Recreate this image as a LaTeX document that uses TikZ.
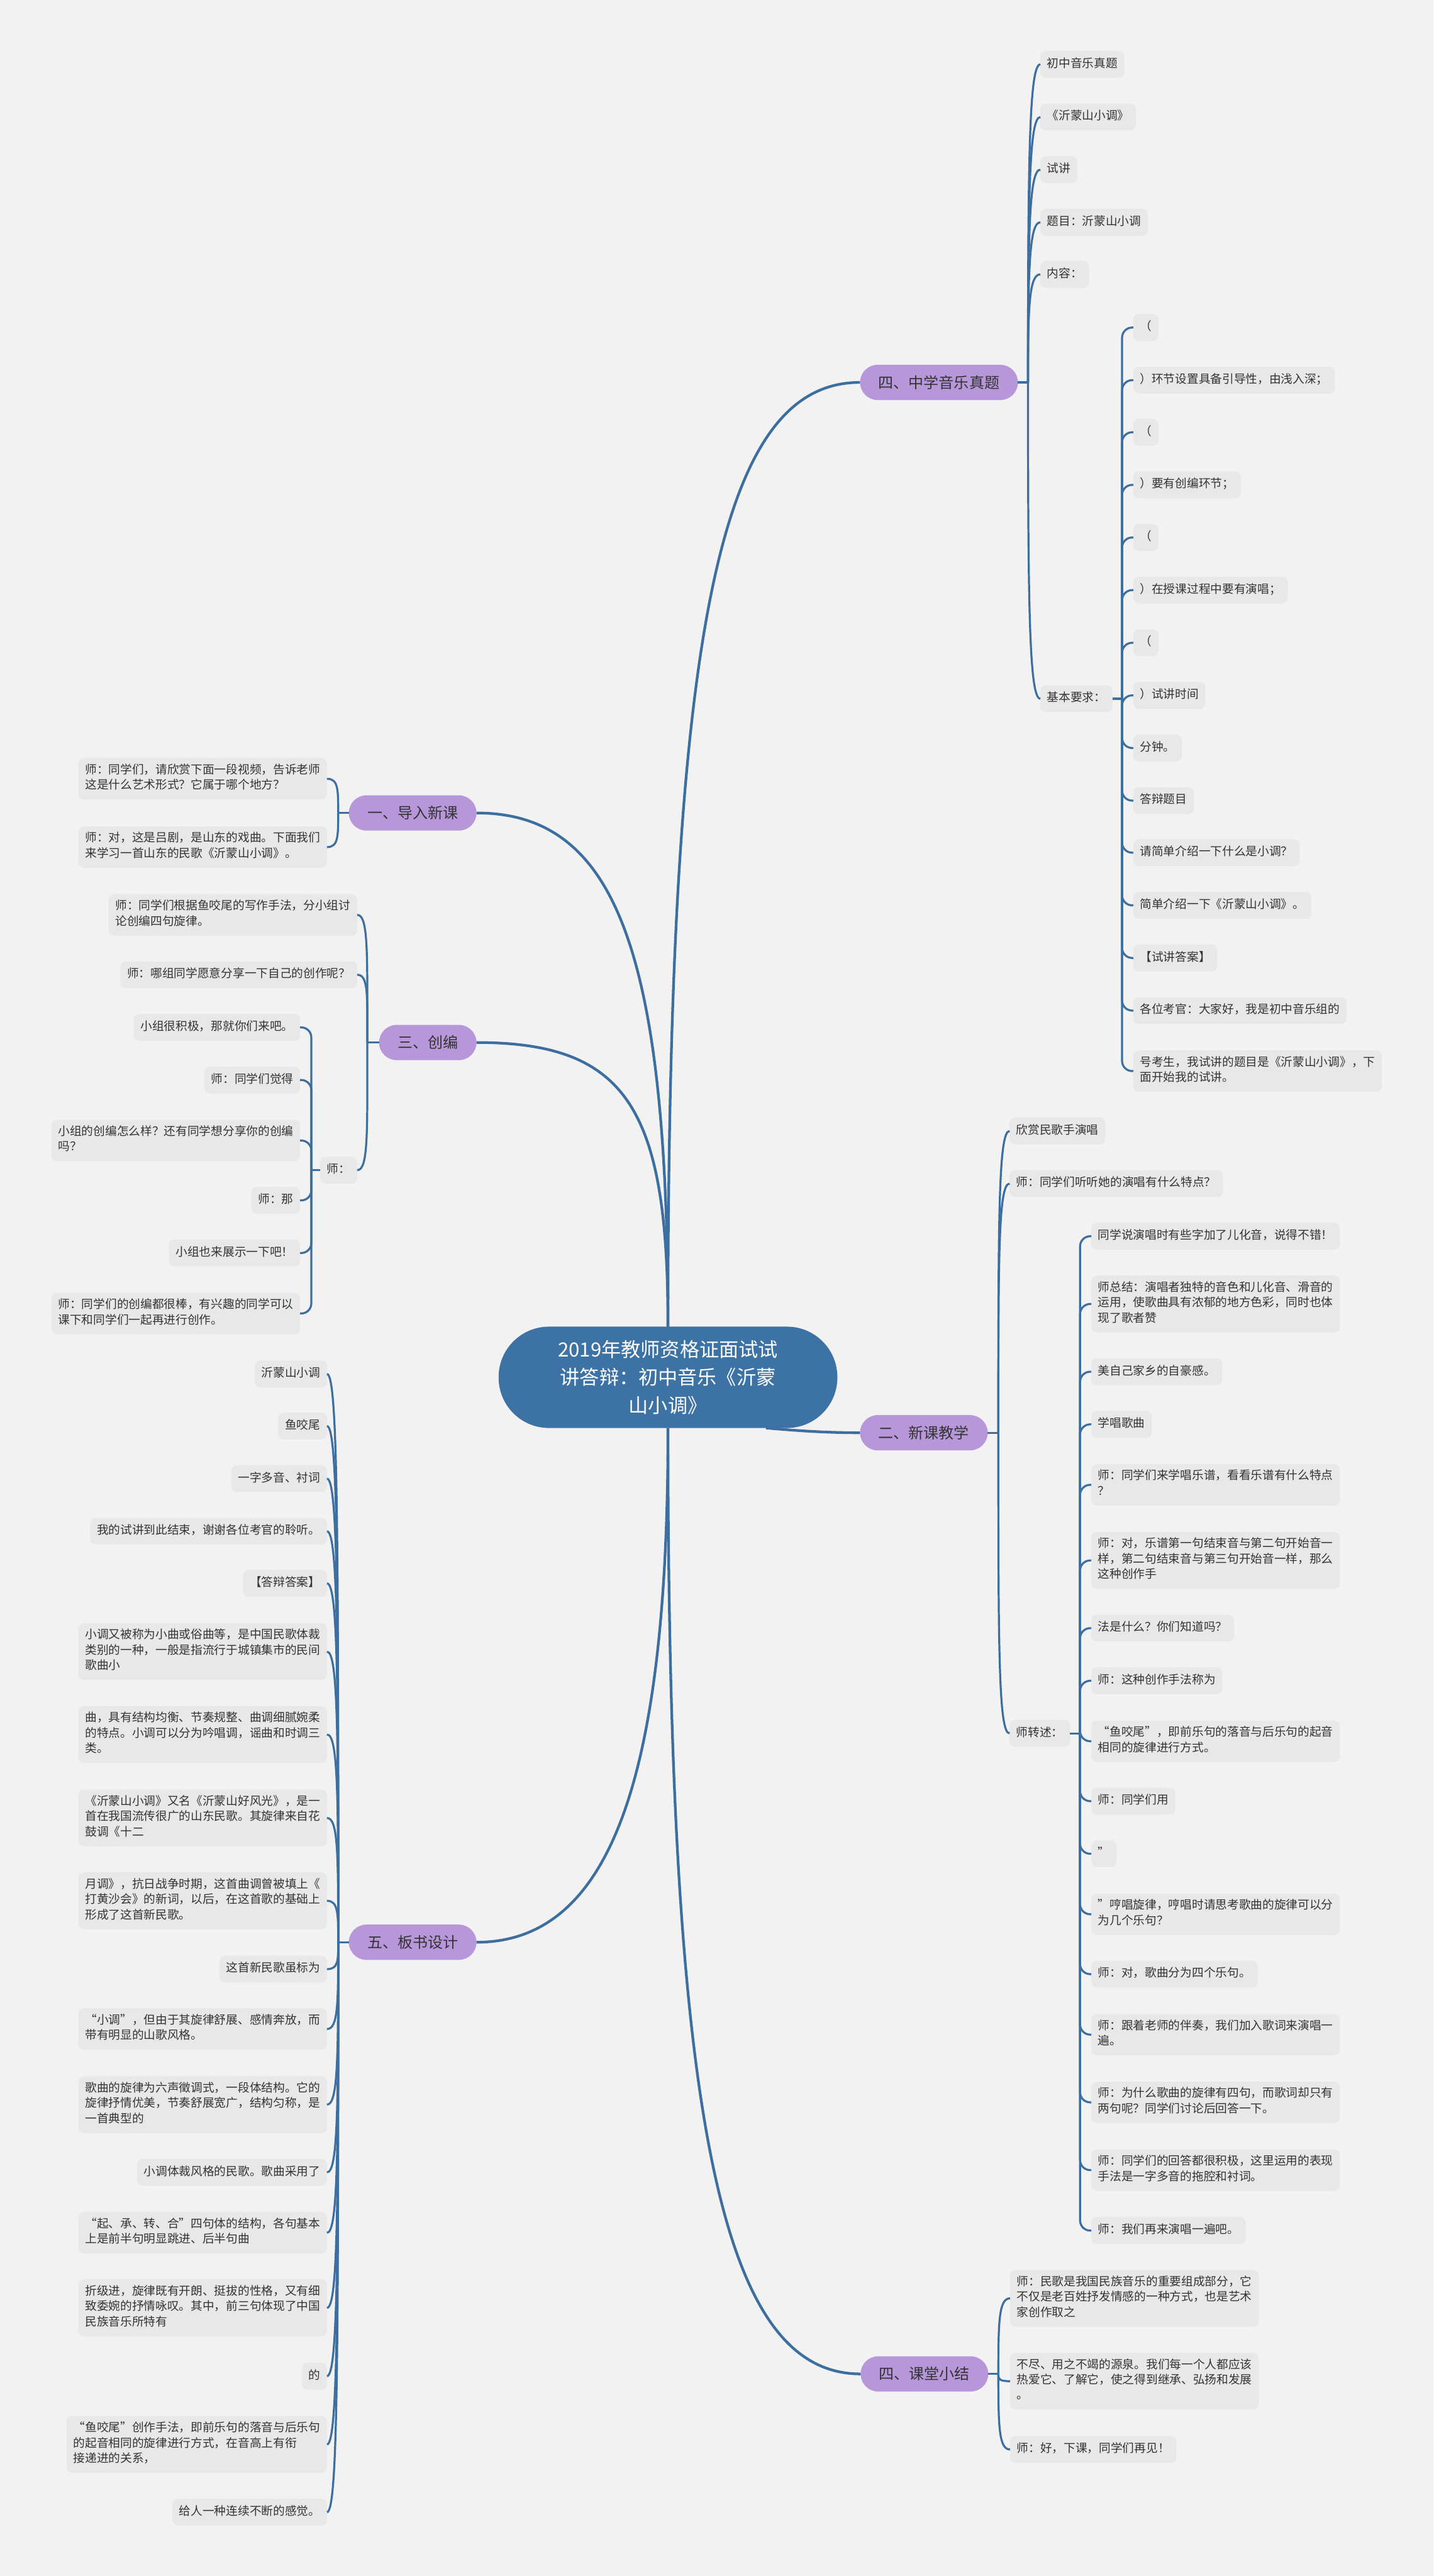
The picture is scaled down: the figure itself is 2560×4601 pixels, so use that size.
\documentclass[tikz,border=0pt]{standalone}
\usepackage{fontspec}
\newfontfamily\cjk{Noto Sans CJK SC}
\usetikzlibrary{calc}
\definecolor{bgc}{HTML}{F2F2F2}
\definecolor{leafc}{HTML}{E8E8E8}
\definecolor{lnc}{HTML}{3C6E9F}
\definecolor{ctrc}{HTML}{3D72A4}
\definecolor{purc}{HTML}{B797DA}
\definecolor{txtc}{HTML}{333333}
\newcommand\lnbrk{\\\strut}
\newcommand\leaffont{\cjk\fontsize{10.5pt}{13.75pt}\selectfont}
\newcommand\conR[2]{\draw[lk] (#1) .. controls ($(#1)!0.7!(#1|-#2.west)$) and ($(#2.west)+(-20,0)$) .. (#2.west);}
\newcommand\conL[2]{\draw[lk] (#1) .. controls ($(#1)!0.7!(#1|-#2.east)$) and ($(#2.east)+(20,0)$) .. (#2.east);}
\newcommand\elbR[2]{\draw[lk,rounded corners=9pt] (#1) |- (#2.west);}
\newcommand\elbL[2]{\draw[lk,rounded corners=9pt] (#1) |- (#2.east);}
\tikzset{
  leaf/.style={fill=leafc, text=txtc, rounded corners=5pt, font=\leaffont, align=left,
    inner xsep=6pt, inner ysep=5.1pt, outer sep=0pt, execute at begin node=\strut},
  mainb/.style={fill=purc, text=txtc, rounded corners=15.75pt, minimum height=31.5pt,
    inner xsep=16.5pt, inner ysep=0pt, outer sep=0pt, font=\cjk\fontsize{13.5pt}{16pt}\selectfont},
  ctrnode/.style={fill=ctrc, text=white, rounded corners=45pt, minimum width=302.5pt,
    minimum height=90.5pt, inner sep=0pt, outer sep=0pt, align=center,
    font=\cjk\fontsize{17.5pt}{25pt}\selectfont},
  lk/.style={draw=lnc, line width=1.8pt},
  mlk/.style={draw=lnc, line width=2.4pt},
}
\begin{document}
\begin{tikzpicture}[x=0.5pt,y=-0.5pt]
\fill[bgc] (0,0) rectangle (2560,4601);
\useasboundingbox (0,0) rectangle (2560,4601);

% center
\node[ctrnode] (c) at (1193,2460) {2019年教师资格证面试试\\讲答辩：初中音乐《沂蒙\\山小调》};
\coordinate (cse) at ($(c.south)+(175,0)$);

% main branches
\node[mainb,anchor=west] (b4t) at (1536,683) {四、中学音乐真题};
\node[mainb,anchor=west] (b2) at (1536,2559) {二、新课教学};
\node[mainb,anchor=west] (b4b) at (1537,4240) {四、课堂小结};
\node[mainb,anchor=east] (b1) at (851,1452) {一、导入新课};
\node[mainb,anchor=east] (b3) at (851,1862) {三、创编};
\node[mainb,anchor=east] (b5) at (851,3469) {五、板书设计};

% branch: 四、中学音乐真题
\coordinate (j4t) at (1836,683);
\node[leaf,anchor=west] (a1) at (1858,115) {初中音乐真题};
\node[leaf,anchor=west] (a2) at (1858,209) {《沂蒙山小调》};
\node[leaf,anchor=west] (a3) at (1858,303) {试讲};
\node[leaf,anchor=west] (a4) at (1858,397) {题目：沂蒙山小调};
\node[leaf,anchor=west] (a5) at (1858,490) {内容：};
\node[leaf,anchor=west] (a6) at (1858,1248) {基本要求：};
\coordinate (ja6) at (2004,1248);
\node[leaf,anchor=west] (r1) at (2024,585) {（};
\node[leaf,anchor=west] (r2) at (2024,679) {）环节设置具备引导性，由浅入深；};
\node[leaf,anchor=west] (r3) at (2024,772) {（};
\node[leaf,anchor=west] (r4) at (2024,866) {）要有创编环节；};
\node[leaf,anchor=west] (r5) at (2024,960) {（};
\node[leaf,anchor=west] (r6) at (2024,1054) {）在授课过程中要有演唱；};
\node[leaf,anchor=west] (r7) at (2024,1148) {（};
\node[leaf,anchor=west] (r8) at (2024,1242) {）试讲时间};
\node[leaf,anchor=west] (r9) at (2024,1336) {分钟。};
\node[leaf,anchor=west] (r10) at (2024,1430) {答辩题目};
\node[leaf,anchor=west] (r11) at (2024,1523) {请简单介绍一下什么是小调？};
\node[leaf,anchor=west] (r12) at (2024,1617) {简单介绍一下《沂蒙山小调》。};
\node[leaf,anchor=west] (r13) at (2024,1711) {【试讲答案】};
\node[leaf,anchor=west] (r14) at (2024,1805) {各位考官：大家好，我是初中音乐组的};
\node[leaf,anchor=west] (r15) at (2024,1913) {号考生，我试讲的题目是《沂蒙山小调》，下\lnbrk 面开始我的试讲。};

% branch: 二、新课教学
\coordinate (j2) at (1783,2559);
\node[leaf,anchor=west] (s1) at (1803,2020) {欣赏民歌手演唱};
\node[leaf,anchor=west] (s2) at (1803,2114) {师：同学们听听她的演唱有什么特点？};
\node[leaf,anchor=west] (s3) at (1803,3096) {师转述：};
\coordinate (js3) at (1929,3096);
\node[leaf,anchor=west] (t1) at (1949,2208) {同学说演唱时有些字加了儿化音，说得不错！};
\node[leaf,anchor=west] (t2) at (1949,2329) {师总结：演唱者独特的音色和儿化音、滑音的\lnbrk 运用，使歌曲具有浓郁的地方色彩，同时也体\lnbrk 现了歌者赞};
\node[leaf,anchor=west] (t3) at (1949,2450) {美自己家乡的自豪感。};
\node[leaf,anchor=west] (t4) at (1949,2544) {学唱歌曲};
\node[leaf,anchor=west] (t5) at (1949,2652) {师：同学们来学唱乐谱，看看乐谱有什么特点\lnbrk ？};
\node[leaf,anchor=west] (t6) at (1949,2787) {师：对，乐谱第一句结束音与第二句开始音一\lnbrk 样，第二句结束音与第三句开始音一样，那么\lnbrk 这种创作手};
\node[leaf,anchor=west] (t7) at (1949,2908) {法是什么？你们知道吗？};
\node[leaf,anchor=west] (t8) at (1949,3002) {师：这种创作手法称为};
\node[leaf,anchor=west] (t9) at (1949,3110) {“鱼咬尾”，即前乐句的落音与后乐句的起音\lnbrk 相同的旋律进行方式。};
\node[leaf,anchor=west] (t10) at (1949,3217) {师：同学们用};
\node[leaf,anchor=west] (t11) at (1949,3311) {”};
\node[leaf,anchor=west] (t12) at (1949,3419) {”哼唱旋律，哼唱时请思考歌曲的旋律可以分\lnbrk 为几个乐句？};
\node[leaf,anchor=west] (t13) at (1949,3526) {师：对，歌曲分为四个乐句。};
\node[leaf,anchor=west] (t14) at (1949,3634) {师：跟着老师的伴奏，我们加入歌词来演唱一\lnbrk 遍。};
\node[leaf,anchor=west] (t15) at (1949,3755) {师：为什么歌曲的旋律有四句，而歌词却只有\lnbrk 两句呢？同学们讨论后回答一下。};
\node[leaf,anchor=west] (t16) at (1949,3876) {师：同学们的回答都很积极，这里运用的表现\lnbrk 手法是一字多音的拖腔和衬词。};
\node[leaf,anchor=west] (t17) at (1949,3984) {师：我们再来演唱一遍吧。};

% branch: 四、课堂小结
\coordinate (j4b) at (1783,4240);
\node[leaf,anchor=west] (u1) at (1804,4105) {师：民歌是我国民族音乐的重要组成部分，它\lnbrk 不仅是老百姓抒发情感的一种方式，也是艺术\lnbrk 家创作取之};
\node[leaf,anchor=west] (u2) at (1804,4253) {不尽、用之不竭的源泉。我们每一个人都应该\lnbrk 热爱它、了解它，使之得到继承、弘扬和发展\lnbrk 。};
\node[leaf,anchor=west] (u3) at (1804,4375) {师：好，下课，同学们再见！};

% branch: 一、导入新课
\coordinate (j1) at (604,1452);
\node[leaf,anchor=east] (v1) at (584,1391) {师：同学们，请欣赏下面一段视频，告诉老师\lnbrk 这是什么艺术形式？它属于哪个地方？};
\node[leaf,anchor=east] (v2) at (584,1513) {师：对，这是吕剧，是山东的戏曲。下面我们\lnbrk 来学习一首山东的民歌《沂蒙山小调》。};

% branch: 三、创编
\coordinate (j3) at (656,1862);
\node[leaf,anchor=east] (w1) at (638,1634) {师：同学们根据鱼咬尾的写作手法，分小组讨\lnbrk 论创编四句旋律。};
\node[leaf,anchor=east] (w2) at (638,1741) {师：哪组同学愿意分享一下自己的创作呢？};
\node[leaf,anchor=east] (w3) at (638,2090) {师：};
\coordinate (jw3) at (556,2090);
\node[leaf,anchor=east] (x1) at (536,1835) {小组很积极，那就你们来吧。};
\node[leaf,anchor=east] (x2) at (536,1929) {师：同学们觉得};
\node[leaf,anchor=east] (x3) at (536,2037) {小组的创编怎么样？还有同学想分享你的创编\lnbrk 吗？};
\node[leaf,anchor=east] (x4) at (536,2144) {师：那};
\node[leaf,anchor=east] (x5) at (536,2238) {小组也来展示一下吧！};
\node[leaf,anchor=east] (x6) at (536,2346) {师：同学们的创编都很棒，有兴趣的同学可以\lnbrk 课下和同学们一起再进行创作。};

% branch: 五、板书设计
\coordinate (j5) at (604,3469);
\node[leaf,anchor=east] (y1) at (584,2454) {沂蒙山小调};
\node[leaf,anchor=east] (y2) at (584,2547) {鱼咬尾};
\node[leaf,anchor=east] (y3) at (584,2641) {一字多音、衬词};
\node[leaf,anchor=east] (y4) at (584,2735) {我的试讲到此结束，谢谢各位考官的聆听。};
\node[leaf,anchor=east] (y5) at (584,2828) {【答辩答案】};
\node[leaf,anchor=east] (y6) at (584,2950) {小调又被称为小曲或俗曲等，是中国民歌体裁\lnbrk 类别的一种，一般是指流行于城镇集市的民间\lnbrk 歌曲小};
\node[leaf,anchor=east] (y7) at (584,3098) {曲，具有结构均衡、节奏规整、曲调细腻婉柔\lnbrk 的特点。小调可以分为吟唱调，谣曲和时调三\lnbrk 类。};
\node[leaf,anchor=east] (y8) at (584,3247) {《沂蒙山小调》又名《沂蒙山好风光》，是一\lnbrk 首在我国流传很广的山东民歌。其旋律来自花\lnbrk 鼓调《十二};
\node[leaf,anchor=east] (y9) at (584,3395) {月调》，抗日战争时期，这首曲调曾被填上《\lnbrk 打黄沙会》的新词，以后，在这首歌的基础上\lnbrk 形成了这首新民歌。};
\node[leaf,anchor=east] (y10) at (584,3517) {这首新民歌虽标为};
\node[leaf,anchor=east] (y11) at (584,3624) {“小调”，但由于其旋律舒展、感情奔放，而\lnbrk 带有明显的山歌风格。};
\node[leaf,anchor=east] (y12) at (584,3759) {歌曲的旋律为六声徵调式，一段体结构。它的\lnbrk 旋律抒情优美，节奏舒展宽广，结构匀称，是\lnbrk 一首典型的};
\node[leaf,anchor=east] (y13) at (584,3880) {小调体裁风格的民歌。歌曲采用了};
\node[leaf,anchor=east] (y14) at (584,3988) {“起、承、转、合”四句体的结构，各句基本\lnbrk 上是前半句明显跳进、后半句曲};
\node[leaf,anchor=east] (y15) at (584,4122) {折级进，旋律既有开朗、挺拔的性格，又有细\lnbrk 致委婉的抒情咏叹。其中，前三句体现了中国\lnbrk 民族音乐所特有};
\node[leaf,anchor=east] (y16) at (584,4244) {的};
\node[leaf,anchor=east] (y17) at (584,4366) {“鱼咬尾”创作手法，即前乐句的落音与后乐句\lnbrk 的起音相同的旋律进行方式，在音高上有衔\lnbrk 接递进的关系，};
\node[leaf,anchor=east] (y18) at (584,4487) {给人一种连续不断的感觉。};

% main connectors
\draw[mlk] (c.north) .. controls (1193,1100) and (1290,683) .. (b4t.west);
\draw[mlk] (c.north) .. controls (1193,1700) and (1100,1452) .. (b1.east);
\draw[mlk] (c.north) .. controls (1193,1980) and (1120,1862) .. (b3.east);
\draw[mlk] (cse) .. controls (1430,2556) and (1480,2559) .. (b2.west);
\draw[mlk] (c.south) .. controls (1193,3150) and (1100,3469) .. (b5.east);
\draw[mlk] (c.south) .. controls (1193,3800) and (1290,4240) .. (b4b.west);

% branch 四、中学音乐真题 connectors
\draw[lk] (b4t.east) -- (j4t);
\foreach \n in {a1,a2,a3,a4,a5,a6} {\conR{j4t}{\n}}
\draw[lk] (a6.east) -- (ja6);
\foreach \n in {r1,r2,r3,r4,r5,r6,r7,r8,r9,r10,r11,r12,r13,r14,r15} {\elbR{ja6}{\n}}

% branch 二
\draw[lk] (b2.east) -- (j2);
\foreach \n in {s1,s2,s3} {\conR{j2}{\n}}
\draw[lk] (s3.east) -- (js3);
\foreach \n in {t1,t2,t3,t4,t5,t6,t7,t8,t9,t10,t11,t12,t13,t14,t15,t16,t17} {\elbR{js3}{\n}}

% branch 四、课堂小结
\draw[lk] (b4b.east) -- (j4b);
\foreach \n in {u1,u2,u3} {\conR{j4b}{\n}}

% branch 一
\draw[lk] (b1.west) -- (j1);
\foreach \n in {v1,v2} {\conL{j1}{\n}}

% branch 三
\draw[lk] (b3.west) -- (j3);
\foreach \n in {w1,w2,w3} {\conL{j3}{\n}}
\draw[lk] (w3.west) -- (jw3);
\foreach \n in {x1,x2,x3,x4,x5,x6} {\elbL{jw3}{\n}}

% branch 五
\draw[lk] (b5.west) -- (j5);
\foreach \n in {y1,y2,y3,y4,y5,y6,y7,y8,y9,y10,y11,y12,y13,y14,y15,y16,y17,y18} {\conL{j5}{\n}}
\end{tikzpicture}
\end{document}
